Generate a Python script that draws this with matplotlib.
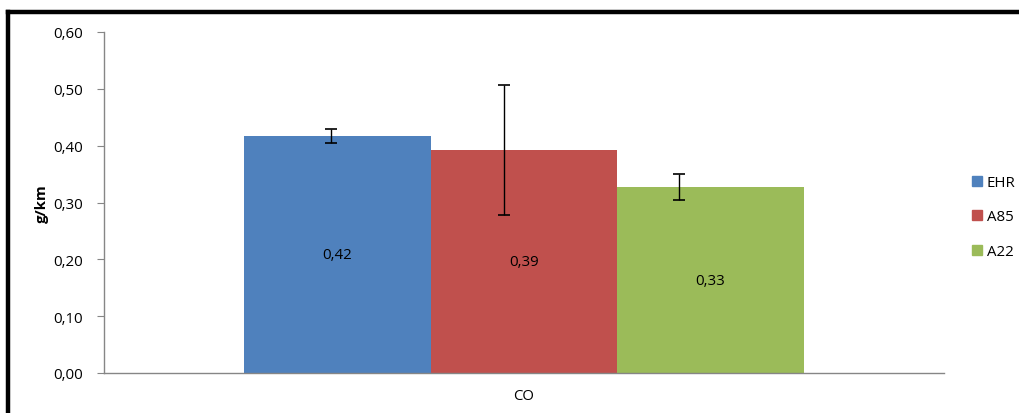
import matplotlib
matplotlib.use('Agg')
import matplotlib.pyplot as plt
from matplotlib.lines import Line2D
import numpy as np

categories = ["CO"]
series = ["EHR", "A85", "A22"]
values = [0.417, 0.392, 0.327]
errors = [0.0115, 0.114, 0.023]
labels = ["0,42", "0,39", "0,33"]
colors = ["#4F81BD", "#C0504D", "#9BBB59"]
yticks = [0.0, 0.1, 0.2, 0.3, 0.4, 0.5, 0.6]
ytick_labels = ["0,00", "0,10", "0,20", "0,30", "0,40", "0,50", "0,60"]

plt.rcParams['font.family'] = ['Open Sans', 'DejaVu Sans']
fs = 10.8

W, H = 1019, 414
fig = plt.figure(figsize=(W / 100, H / 100), dpi=100)
# axes box in pixels: x 104..944, y 33..374
ax = fig.add_axes([104 / W, 1 - 374 / H, 840 / W, 341 / H])

bar_w = 186.5 / 840  # gap width 150 %
pos = 0.5 + (np.arange(len(series)) - 1) * bar_w
# error bars in the source sit a bit left of each bar centre
err_shift = np.array([-7, -20, -32]) / 840

for i, s in enumerate(series):
    ax.bar(pos[i], values[i], width=bar_w, color=colors[i], label=s, zorder=2)
    ax.errorbar(pos[i] + err_shift[i], values[i], yerr=errors[i], fmt='none',
                ecolor='black', elinewidth=1, capsize=4.5, capthick=1.2, zorder=3)
    ax.text(pos[i], values[i] / 2, labels[i], ha='center', va='center',
            fontsize=fs, color='black', zorder=4)

ax.set_xlim(0, 1)
ax.set_ylim(0, 0.6)
ax.set_yticks(yticks)
ax.set_yticklabels(ytick_labels, fontsize=fs)
ax.set_xticks([0.5])
ax.set_xticklabels(categories, fontsize=fs)
ax.tick_params(axis='x', length=0, pad=11)
ax.tick_params(axis='y', length=5, color='#868686', pad=10)
for side in ['top', 'right']:
    ax.spines[side].set_visible(False)
for side in ['left', 'bottom']:
    ax.spines[side].set_color('#868686')
    ax.spines[side].set_linewidth(1)

ax.set_ylabel("g/km", fontsize=fs, fontweight='bold', labelpad=3)

handles = [plt.Rectangle((0, 0), 1, 1, color=c) for c in colors]
fig.legend(handles, series, loc='center left', bbox_to_anchor=(966 / W, 1 - 218 / H),
           frameon=False, fontsize=fs, handlelength=0.65, handleheight=0.65,
           handletextpad=0.35, labelspacing=1.3, borderaxespad=0)

# chart area border (only top and left visible in the crop)
fig.add_artist(Line2D([7.5 / W, 1], [1 - 12.5 / H] * 2, color='black', lw=3.2,
                      transform=fig.transFigure, solid_capstyle='projecting'))
fig.add_artist(Line2D([7.5 / W] * 2, [1 - 12.5 / H, 0], color='black', lw=3.2,
                      transform=fig.transFigure, solid_capstyle='projecting'))

fig.savefig("out.png", dpi=100)
